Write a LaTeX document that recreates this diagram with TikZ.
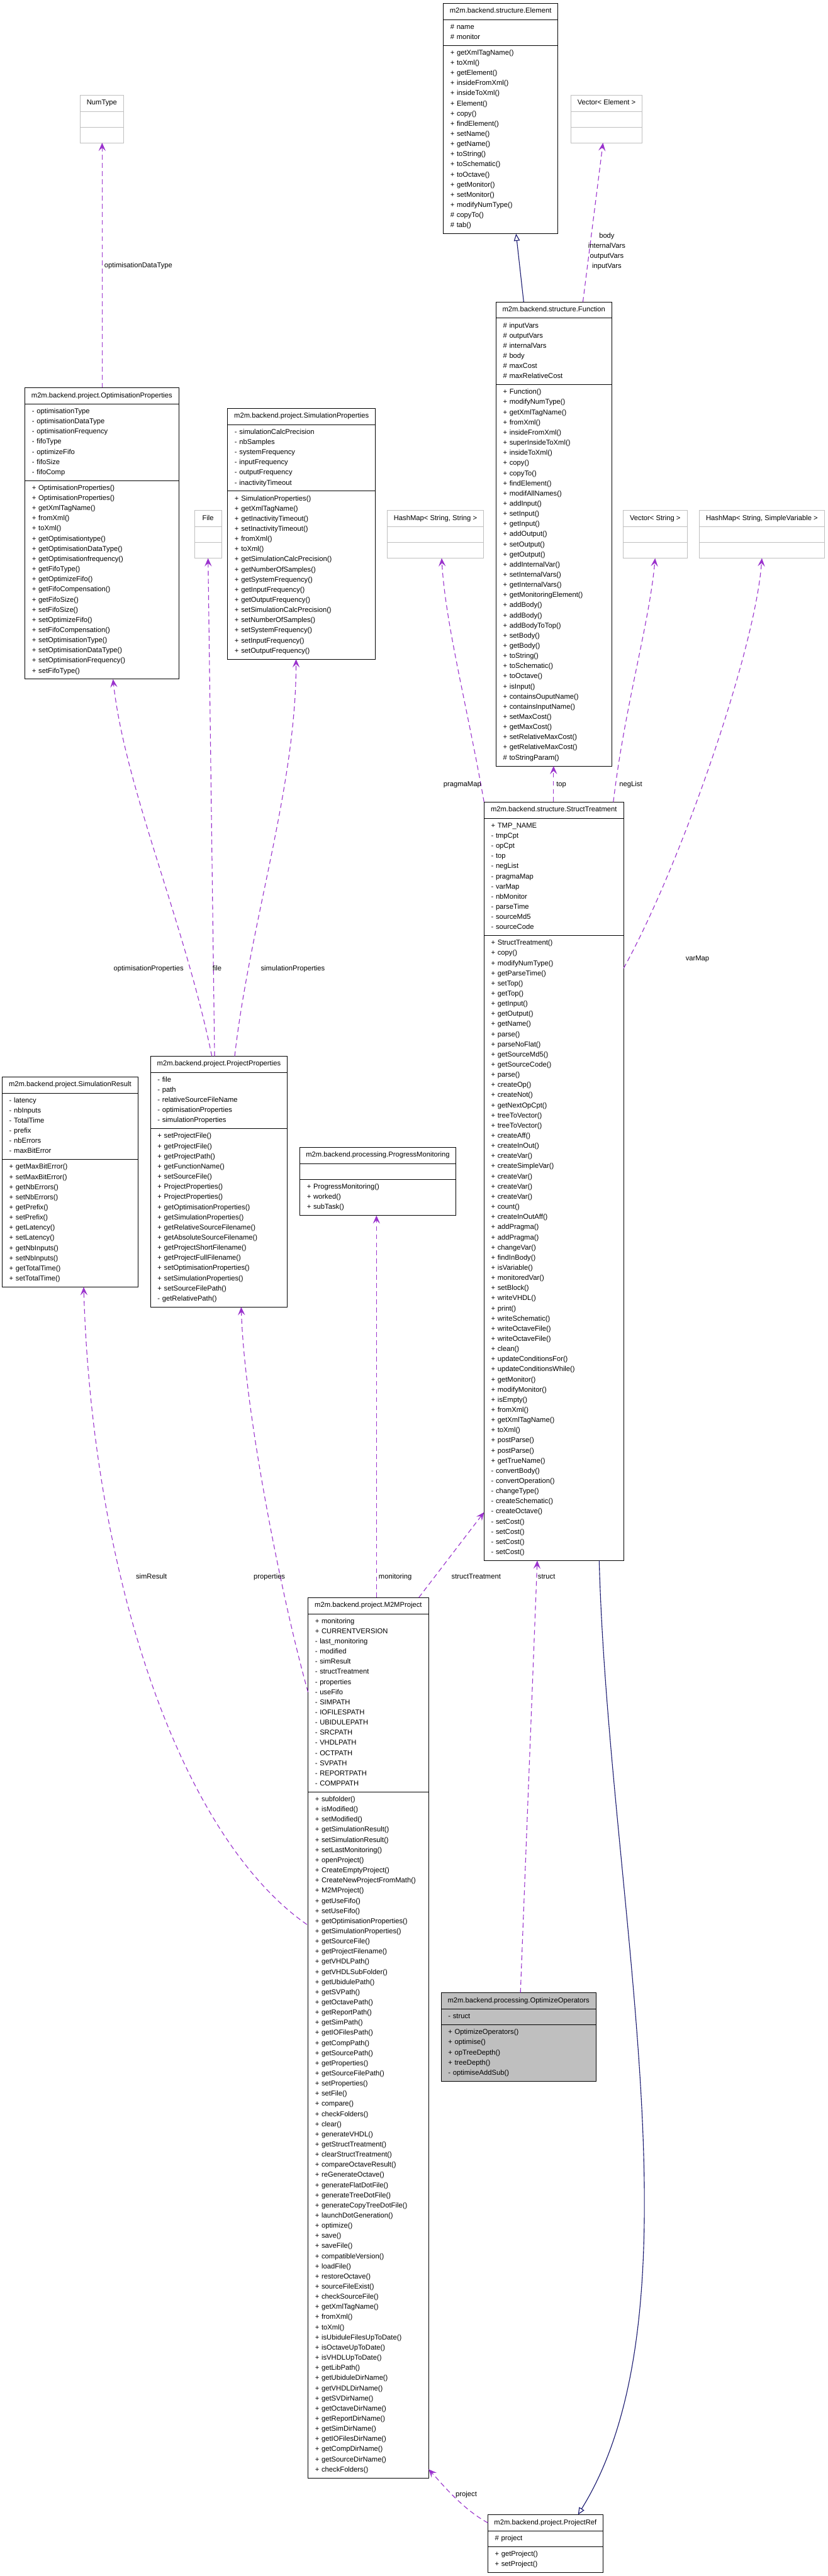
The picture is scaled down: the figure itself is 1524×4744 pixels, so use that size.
\documentclass[tikz,border=0pt]{standalone}
\usepackage{fontspec}
\setmainfont{Liberation Sans}
\usetikzlibrary{calc,arrows.meta}
\definecolor{edgepurple}{HTML}{9A32CD}
\definecolor{inhnavy}{HTML}{191970}
\definecolor{extgray}{HTML}{BFBFBF}
\newcommand\clsstrut{\rule[-3.5pt]{0pt}{13pt}}
\tikzset{
  every node/.style={font=\fontsize{13}{18.7}\selectfont},
  box/.style={draw=black, line width=1.1pt, outer sep=0pt, inner ysep=0pt, anchor=north west},
  ttl/.style={box, inner xsep=0pt, minimum height=30, text height=9.5, text depth=3.5},
  cmp/.style={box, inner xsep=13, align=left, execute at begin node=\clsstrut, execute at end node=\clsstrut},
  ext/.style={draw=extgray},
  fil/.style={fill=extgray},
  use/.style={draw=edgepurple, line width=1.3pt, dash pattern=on 9pt off 6pt, -{Stealth[length=15pt,width=13pt,inset=6pt]}},
  inh/.style={draw=inhnavy, line width=1.3pt, -{Triangle[open,length=13pt,width=11pt]}},
  lbl/.style={inner sep=0pt, text height=9.5, text depth=3.5}
}
\begin{document}
\begin{tikzpicture}[x=1pt,y=-1pt]
\fill[white] (0,0) rectangle (1524,4744);
\useasboundingbox (0,0) rectangle (1524,4744);

% Element
\node[ttl, minimum width=211] (elem) at (816,6) {m2m.backend.structure.Element};
\node[cmp, text width=185, minimum height=47.7] (elemA) at (elem.south west) {\# name\\\# monitor};
\node[cmp, text width=185, minimum height=346.9] (elemM) at (elemA.south west) {+ getXmlTagName()\\+ toXml()\\+ getElement()\\+ insideFromXml()\\+ insideToXml()\\+ Element()\\+ copy()\\+ findElement()\\+ setName()\\+ getName()\\+ toString()\\+ toSchematic()\\+ toOctave()\\+ getMonitor()\\+ setMonitor()\\+ modifyNumType()\\\# copyTo()\\\# tab()};

% NumType
\node[ttl, ext, minimum width=79] (numt) at (148,175) {NumType};
\node[cmp, ext, text width=53, minimum height=29] (numtA) at (numt.south west) {};
\node[cmp, ext, text width=53, minimum height=29] (numtM) at (numtA.south west) {};

% Vector< Element >
\node[ttl, ext, minimum width=131] (vecE) at (1051,175) {Vector< Element >};
\node[cmp, ext, text width=105, minimum height=29] (vecEA) at (vecE.south west) {};
\node[cmp, ext, text width=105, minimum height=29] (vecEM) at (vecEA.south west) {};

% Function
\node[ttl, minimum width=213] (func) at (913,556) {m2m.backend.structure.Function};
\node[cmp, text width=187, minimum height=122.5] (funcA) at (func.south west) {\# inputVars\\\# outputVars\\\# internalVars\\\# body\\\# maxCost\\\# maxRelativeCost};
\node[cmp, text width=187, minimum height=702.2] (funcM) at (funcA.south west) {+ Function()\\+ modifyNumType()\\+ getXmlTagName()\\+ fromXml()\\+ insideFromXml()\\+ superInsideToXml()\\+ insideToXml()\\+ copy()\\+ copyTo()\\+ findElement()\\+ modifAllNames()\\+ addInput()\\+ setInput()\\+ getInput()\\+ addOutput()\\+ setOutput()\\+ getOutput()\\+ addInternalVar()\\+ setInternalVars()\\+ getInternalVars()\\+ getMonitoringElement()\\+ addBody()\\+ addBody()\\+ addBodyToTop()\\+ setBody()\\+ getBody()\\+ toString()\\+ toSchematic()\\+ toOctave()\\+ isInput()\\+ containsOuputName()\\+ containsInputName()\\+ setMaxCost()\\+ getMaxCost()\\+ setRelativeMaxCost()\\+ getRelativeMaxCost()\\\# toStringParam()};

% OptimisationProperties
\node[ttl, minimum width=283] (optp) at (46,714) {m2m.backend.project.OptimisationProperties};
\node[cmp, text width=257, minimum height=141.2] (optpA) at (optp.south west) {- optimisationType\\- optimisationDataType\\- optimisationFrequency\\- fifoType\\- optimizeFifo\\- fifoSize\\- fifoComp};
\node[cmp, text width=257, minimum height=365.6] (optpM) at (optpA.south west) {+ OptimisationProperties()\\+ OptimisationProperties()\\+ getXmlTagName()\\+ fromXml()\\+ toXml()\\+ getOptimisationtype()\\+ getOptimisationDataType()\\+ getOptimisationfrequency()\\+ getFifoType()\\+ getOptimizeFifo()\\+ getFifoCompensation()\\+ getFifoSize()\\+ setFifoSize()\\+ setOptimizeFifo()\\+ setFifoCompensation()\\+ setOptimisationType()\\+ setOptimisationDataType()\\+ setOptimisationFrequency()\\+ setFifoType()};

% SimulationProperties
\node[ttl, minimum width=272] (simp) at (419,752) {m2m.backend.project.SimulationProperties};
\node[cmp, text width=246, minimum height=122.5] (simpA) at (simp.south west) {- simulationCalcPrecision\\- nbSamples\\- systemFrequency\\- inputFrequency\\- outputFrequency\\- inactivityTimeout};
\node[cmp, text width=246, minimum height=309.5] (simpM) at (simpA.south west) {+ SimulationProperties()\\+ getXmlTagName()\\+ getInactivityTimeout()\\+ setInactivityTimeout()\\+ fromXml()\\+ toXml()\\+ getSimulationCalcPrecision()\\+ getNumberOfSamples()\\+ getSystemFrequency()\\+ getInputFrequency()\\+ getOutputFrequency()\\+ setSimulationCalcPrecision()\\+ setNumberOfSamples()\\+ setSystemFrequency()\\+ setInputFrequency()\\+ setOutputFrequency()};

% File
\node[ttl, ext, minimum width=50] (file) at (358,940) {File};
\node[cmp, ext, text width=24, minimum height=29] (fileA) at (file.south west) {};
\node[cmp, ext, text width=24, minimum height=29] (fileM) at (fileA.south west) {};

% HashMap< String, String >
\node[ttl, ext, minimum width=177] (hmss) at (713,940) {HashMap< String, String >};
\node[cmp, ext, text width=151, minimum height=29] (hmssA) at (hmss.south west) {};
\node[cmp, ext, text width=151, minimum height=29] (hmssM) at (hmssA.south west) {};

% Vector< String >
\node[ttl, ext, minimum width=118] (vecS) at (1147,940) {Vector< String >};
\node[cmp, ext, text width=92, minimum height=29] (vecSA) at (vecS.south west) {};
\node[cmp, ext, text width=92, minimum height=29] (vecSM) at (vecSA.south west) {};

% HashMap< String, SimpleVariable >
\node[ttl, ext, minimum width=231] (hmsv) at (1287,940) {HashMap< String, SimpleVariable >};
\node[cmp, ext, text width=205, minimum height=29] (hmsvA) at (hmsv.south west) {};
\node[cmp, ext, text width=205, minimum height=29] (hmsvM) at (hmsvA.south west) {};

% StructTreatment
\node[ttl, minimum width=257] (sttr) at (891,1477) {m2m.backend.structure.StructTreatment};
\node[cmp, text width=231, minimum height=216] (sttrA) at (sttr.south west) {+ TMP\_NAME\\- tmpCpt\\- opCpt\\- top\\- negList\\- pragmaMap\\- varMap\\- nbMonitor\\- parseTime\\- sourceMd5\\- sourceCode};
\node[cmp, text width=231, minimum height=1151] (sttrM) at (sttrA.south west) {+ StructTreatment()\\+ copy()\\+ modifyNumType()\\+ getParseTime()\\+ setTop()\\+ getTop()\\+ getInput()\\+ getOutput()\\+ getName()\\+ parse()\\+ parseNoFlat()\\+ getSourceMd5()\\+ getSourceCode()\\+ parse()\\+ createOp()\\+ createNot()\\+ getNextOpCpt()\\+ treeToVector()\\+ treeToVector()\\+ createAff()\\+ createInOut()\\+ createVar()\\+ createSimpleVar()\\+ createVar()\\+ createVar()\\+ createVar()\\+ count()\\+ createInOutAff()\\+ addPragma()\\+ addPragma()\\+ changeVar()\\+ findInBody()\\+ isVariable()\\+ monitoredVar()\\+ setBlock()\\+ writeVHDL()\\+ print()\\+ writeSchematic()\\+ writeOctaveFile()\\+ writeOctaveFile()\\+ clean()\\+ updateConditionsFor()\\+ updateConditionsWhile()\\+ getMonitor()\\+ modifyMonitor()\\+ isEmpty()\\+ fromXml()\\+ getXmlTagName()\\+ toXml()\\+ postParse()\\+ postParse()\\+ getTrueName()\\- convertBody()\\- convertOperation()\\- changeType()\\- createSchematic()\\- createOctave()\\- setCost()\\- setCost()\\- setCost()\\- setCost()};

% SimulationResult
\node[ttl, minimum width=250] (simr) at (4,1983) {m2m.backend.project.SimulationResult};
\node[cmp, text width=224, minimum height=122.5] (simrA) at (simr.south west) {- latency\\- nbInputs\\- TotalTime\\- prefix\\- nbErrors\\- maxBitError};
\node[cmp, text width=224, minimum height=234.7] (simrM) at (simrA.south west) {+ getMaxBitError()\\+ setMaxBitError()\\+ getNbErrors()\\+ setNbErrors()\\+ getPrefix()\\+ setPrefix()\\+ getLatency()\\+ setLatency()\\+ getNbInputs()\\+ setNbInputs()\\+ getTotalTime()\\+ setTotalTime()};

% ProjectProperties
\node[ttl, minimum width=252] (projp) at (277,1945) {m2m.backend.project.ProjectProperties};
\node[cmp, text width=226, minimum height=103.8] (projpA) at (projp.south west) {- file\\- path\\- relativeSourceFileName\\- optimisationProperties\\- simulationProperties};
\node[cmp, text width=226, minimum height=328.2] (projpM) at (projpA.south west) {+ setProjectFile()\\+ getProjectFile()\\+ getProjectPath()\\+ getFunctionName()\\+ setSourceFile()\\+ ProjectProperties()\\+ ProjectProperties()\\+ getOptimisationProperties()\\+ getSimulationProperties()\\+ getRelativeSourceFilename()\\+ getAbsoluteSourceFilename()\\+ getProjectShortFilename()\\+ getProjectFullFilename()\\+ setOptimisationProperties()\\+ setSimulationProperties()\\+ setSourceFilePath()\\- getRelativePath()};

% ProgressMonitoring
\node[ttl, minimum width=287] (prog) at (552,2113) {m2m.backend.processing.ProgressMonitoring};
\node[cmp, text width=261, minimum height=29] (progA) at (prog.south west) {};
\node[cmp, text width=261, minimum height=66.4] (progM) at (progA.south west) {+ ProgressMonitoring()\\+ worked()\\+ subTask()};

% M2MProject
\node[ttl, minimum width=222] (m2m) at (567,2942) {m2m.backend.project.M2MProject};
\node[cmp, text width=196, minimum height=328.2] (m2mA) at (m2m.south west) {+ monitoring\\+ CURRENTVERSION\\- last\_monitoring\\- modified\\- simResult\\- structTreatment\\- properties\\- useFifo\\- SIMPATH\\- IOFILESPATH\\- UBIDULEPATH\\- SRCPATH\\- VHDLPATH\\- OCTPATH\\- SVPATH\\- REPORTPATH\\- COMPPATH};
\node[cmp, text width=196, minimum height=1263.2] (m2mM) at (m2mA.south west) {+ subfolder()\\+ isModified()\\+ setModified()\\+ getSimulationResult()\\+ setSimulationResult()\\+ setLastMonitoring()\\+ openProject()\\+ CreateEmptyProject()\\+ CreateNewProjectFromMath()\\+ M2MProject()\\+ getUseFifo()\\+ setUseFifo()\\+ getOptimisationProperties()\\+ getSimulationProperties()\\+ getSourceFile()\\+ getProjectFilename()\\+ getVHDLPath()\\+ getVHDLSubFolder()\\+ getUbidulePath()\\+ getSVPath()\\+ getOctavePath()\\+ getReportPath()\\+ getSimPath()\\+ getIOFilesPath()\\+ getCompPath()\\+ getSourcePath()\\+ getProperties()\\+ getSourceFilePath()\\+ setProperties()\\+ setFile()\\+ compare()\\+ checkFolders()\\+ clear()\\+ generateVHDL()\\+ getStructTreatment()\\+ clearStructTreatment()\\+ compareOctaveResult()\\+ reGenerateOctave()\\+ generateFlatDotFile()\\+ generateTreeDotFile()\\+ generateCopyTreeDotFile()\\+ launchDotGeneration()\\+ optimize()\\+ save()\\+ saveFile()\\+ compatibleVersion()\\+ loadFile()\\+ restoreOctave()\\+ sourceFileExist()\\+ checkSourceFile()\\+ getXmlTagName()\\+ fromXml()\\+ toXml()\\+ isUbiduleFilesUpToDate()\\+ isOctaveUpToDate()\\+ isVHDLUpToDate()\\+ getLibPath()\\+ getUbiduleDirName()\\+ getVHDLDirName()\\+ getSVDirName()\\+ getOctaveDirName()\\+ getReportDirName()\\+ getSimDirName()\\+ getIOFilesDirName()\\+ getCompDirName()\\+ getSourceDirName()\\+ checkFolders()};

% OptimizeOperators
\node[ttl, fil, minimum width=285] (optop) at (812,3670) {m2m.backend.processing.OptimizeOperators};
\node[cmp, fil, text width=259, minimum height=29] (optopA) at (optop.south west) {- struct};
\node[cmp, fil, text width=259, minimum height=103.8] (optopM) at (optopA.south west) {+ OptimizeOperators()\\+ optimise()\\+ opTreeDepth()\\+ treeDepth()\\- optimiseAddSub()};

% ProjectRef
\node[ttl, minimum width=212] (pref) at (898,4631) {m2m.backend.project.ProjectRef};
\node[cmp, text width=186, minimum height=29] (prefA) at (pref.south west) {\# project};
\node[cmp, text width=186, minimum height=47.7] (prefM) at (prefA.south west) {+ getProject()\\+ setProject()};

% ---- edges ----
\draw[inh] ($(func.north west)+(51,0)$) -- ($(elemM.south west)+(134,0)$);
\draw[use] ($(func.north west)+(160,0)$) -- ($(vecEM.south west)+(59,0)$);
\node[lbl, align=center] (lbody) at (1117,491) {body\\internalVars\\outputVars\\inputVars};

\draw[use] ($(optp.north west)+(142,0)$) -- ($(numtM.south west)+(40,0)$);
\node[lbl, anchor=west] (lodt) at (192,490) {optimisationDataType};

\draw[use] ($(projp.north west)+(113,0)$) .. controls (340,1700) and (230,1450) .. ($(optpM.south west)+(162,0)$);
\node[lbl, anchor=east] (lopt) at (338,1785) {optimisationProperties};
\draw[use] ($(projp.north west)+(118,0)$) -- (fileM.south);
\node[lbl, anchor=west] (lfile) at (391,1785) {file};
\draw[use] ($(projp.north west)+(155,0)$) .. controls (460,1700) and (545,1450) .. ($(simpM.south west)+(126,0)$);
\node[lbl, anchor=west] (lsimp) at (480,1785) {simulationProperties};

\draw[use] (sttr.north west) .. controls (860,1300) and (820,1150) .. ($(hmssM.south west)+(100,0)$);
\node[lbl, anchor=east] (lprag) at (886,1445) {pragmaMap};
\draw[use] ($(sttr.north west)+(128,0)$) -- ($(funcM.south west)+(106,0)$);
\node[lbl, anchor=west] (ltop) at (1024,1445) {top};
\draw[use] ($(sttr.north west)+(238,0)$) .. controls (1150,1300) and (1195,1150) .. (vecSM.south);
\node[lbl, anchor=west] (lneg) at (1140,1445) {negList};
\draw[use] ($(sttrM.north east)+(0,60)$) .. controls (1250,1600) and (1390,1200) .. (hmsvM.south);
\node[lbl, anchor=west] (lvar) at (1262,1766) {varMap};

\draw[use] ($(m2mM.north west)+(-2,244)$) .. controls (330,3380) and (170,2900) .. ($(simrM.south west)+(150,0)$);
\node[lbl, anchor=west] (lsimr) at (250,2905) {simResult};
\draw[use] ($(m2mA.north west)+(0,144)$) .. controls (520,2950) and (450,2600) .. ($(projpM.south west)+(167,0)$);
\node[lbl, anchor=east] (lprop) at (525,2905) {properties};
\draw[use] ($(m2m.north west)+(126,0)$) -- ($(progM.south west)+(141,0)$);
\node[lbl, anchor=west] (lmon) at (697,2905) {monitoring};
\draw[use] ($(m2m.north west)+(204,0)$) -- ($(sttrM.north west)+(0,1062)$);
\node[lbl, anchor=east] (lstt) at (922,2905) {structTreatment};
\draw[use] ($(optop.north west)+(146,0)$) -- ($(sttrM.south west)+(98,0)$);
\node[lbl, anchor=west] (lstr) at (990,2905) {struct};

\draw[inh] ($(sttrM.south west)+(212,0)$) .. controls (1120,3500) and (1300,4250) .. ($(pref.north west)+(166,0)$);
\draw[use] (pref.west) .. controls (850,4620) and (810,4570) .. ($(m2mM.south east)+(0,-16)$);
\node[lbl, anchor=east] (lproj) at (878,4595) {project};
\end{tikzpicture}
\end{document}
